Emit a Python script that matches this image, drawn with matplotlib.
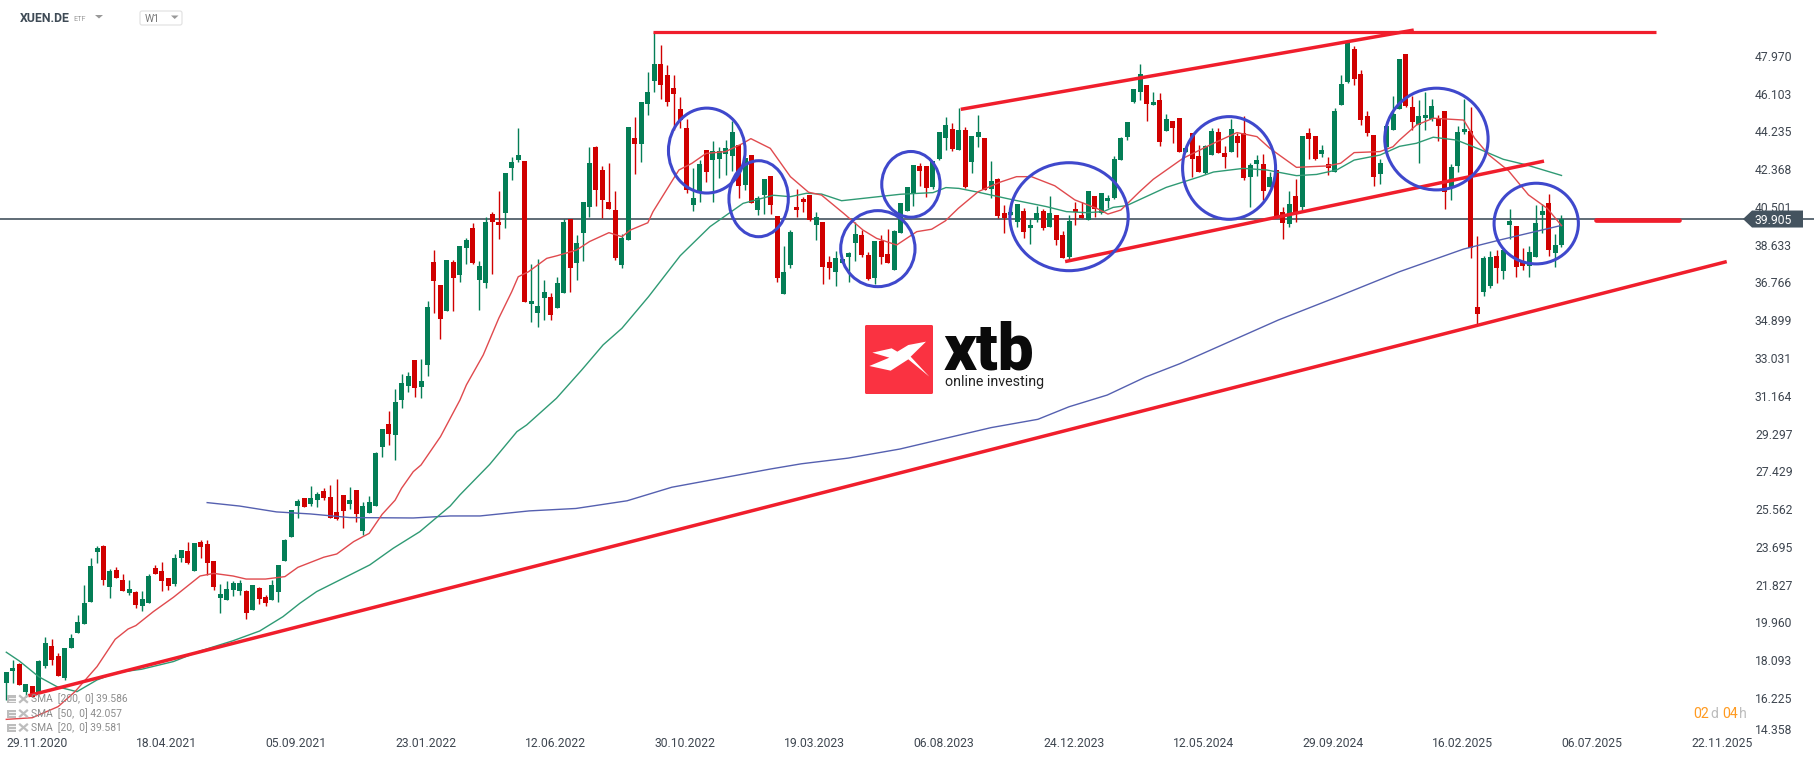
import matplotlib
matplotlib.use("Agg")
import matplotlib.pyplot as plt
import numpy as np
from matplotlib.patches import Ellipse, Polygon, Rectangle, FancyBboxPatch
from matplotlib.transforms import Affine2D, ScaledTranslation, blended_transform_factory

plt.rcParams['font.family'] = ['Roboto', 'DejaVu Sans']

W, H = 1815, 759

# ---------- weekly candles (body colour, body top/bottom, wick high/low) ----------
direction = ("GGRGRGGRRG" "GGGGGRGRRG" "RGGRRRGGRG" "RRRGGGGRGR" "RGGGGGRGGR"
             "RRRGRGGGGR" "GGGRGGRRGR" "GGRGGRRGGG" "RGGGRGGRGG" "GRRRRGGRGG"
             "GRRRRRGGRG" "GGGRGRGGRR" "GGRRRGRRGG" "GGRRGRRGGG" "GRRGGGRGRG"
             "GRGRRGGRGG" "RGRRGRRGRG" "GGGGGGRGRG" "RRGRRGGRRG" "RRGGRGRRGR"
             "GRRGRGGGRR" "RRGGGGRRGG" "GRRGGGRRGG" "RGGRRGGGRGG")

body_top = [
    17.49,17.69,17.90,16.91,16.81,18.05,18.92,18.79,18.30,18.67,
    19.17,19.96,20.90,22.75,23.65,23.74,22.52,22.55,22.05,21.61,
    21.46,21.11,22.25,22.65,22.50,22.15,23.14,23.54,23.49,23.88,
    23.92,23.83,22.99,21.36,21.61,21.91,21.91,21.51,21.79,21.66,
    21.21,21.81,22.80,24.03,25.52,25.96,26.11,26.11,26.31,26.45,
    26.16,25.42,26.26,26.01,26.50,25.71,25.91,28.34,29.52,29.77,
    30.85,31.80,32.14,32.93,31.89,35.55,37.78,36.64,37.88,37.78,
    38.57,38.87,39.46,37.58,39.76,40.15,39.76,42.18,42.73,43.07,
    42.78,35.85,35.61,36.30,36.05,36.74,39.76,39.91,38.72,40.75,
    42.68,43.47,42.33,40.75,40.35,38.97,44.46,43.91,45.69,46.19,
    47.57,47.57,47.03,46.39,45.35,44.41,40.95,42.63,43.32,43.27,
    43.27,43.42,44.21,43.57,42.93,43.07,40.95,41.89,42.04,40.06,
    37.29,39.27,40.50,40.90,41.10,40.01,39.76,37.78,37.98,37.93,
    38.23,39.17,39.12,38.13,38.82,38.82,38.18,39.31,40.71,41.49,
    42.58,42.53,42.53,42.78,44.21,44.56,44.36,44.31,44.31,44.01,
    44.21,43.91,41.79,41.89,40.21,40.27,40.65,40.30,39.61,40.21,
    40.30,40.21,40.11,39.12,39.81,40.40,40.11,41.29,41.05,41.19,
    40.95,42.88,43.91,44.70,46.34,47.08,46.54,45.69,45.79,44.85,
    44.75,44.90,43.42,44.16,43.02,43.52,44.26,44.21,43.17,44.36,
    44.01,44.16,42.58,42.83,42.63,41.98,42.33,40.25,40.65,41.05,
    44.01,44.16,44.01,43.32,42.63,45.25,46.58,48.66,48.31,47.08,
    45.00,44.06,42.68,44.51,45.10,47.82,48.07,45.44,45.00,45.05,
    45.50,44.85,45.25,42.48,44.21,44.36,44.26,35.55,37.98,38.03,
    38.08,38.37,39.81,39.56,37.78,38.27,39.71,40.30,40.70,38.62,39.905]

body_bottom = [
    16.98,17.57,16.86,16.53,16.28,16.45,17.80,18.10,17.31,17.19,
    18.69,19.43,19.88,20.97,23.44,22.05,21.72,22.17,21.51,21.41,
    20.82,20.77,20.93,22.35,22.00,21.76,21.86,23.14,22.89,22.52,
    23.70,22.89,21.72,21.18,21.07,21.55,21.51,20.42,20.57,21.13,
    20.92,21.07,21.46,23.00,24.18,25.71,25.66,25.81,26.01,26.11,
    25.12,25.07,25.47,25.81,25.32,24.47,25.37,25.71,28.63,29.27,
    29.22,30.95,31.65,31.55,31.60,32.69,36.84,34.96,35.36,36.99,
    37.14,38.47,37.73,36.89,36.74,39.76,39.61,40.21,42.43,42.83,
    35.80,35.70,35.26,36.00,35.16,35.51,36.25,37.48,37.73,39.22,
    40.50,41.34,40.85,40.40,37.98,37.63,38.87,43.62,43.62,45.60,
    46.73,46.54,45.69,46.09,44.80,41.34,40.60,41.24,42.23,42.83,
    42.88,43.12,43.02,41.54,41.59,40.70,40.35,41.10,40.60,36.99,
    36.20,37.63,40.35,40.75,39.86,39.61,37.53,37.48,37.29,37.73,
    38.03,38.72,38.13,36.94,36.99,38.03,37.73,37.39,39.20,40.30,
    41.14,42.28,41.44,41.49,42.88,43.91,43.37,43.32,41.49,42.73,
    43.96,41.34,41.39,40.06,39.96,40.11,39.76,39.27,39.46,39.86,
    39.46,39.51,38.87,37.98,38.03,40.25,39.96,39.86,40.40,40.21,
    40.80,40.95,42.83,43.96,45.69,46.19,45.60,45.54,43.71,44.26,
    44.41,43.22,43.22,42.88,42.23,42.18,43.07,43.17,42.97,43.22,
    43.66,41.94,41.98,42.63,41.29,41.49,40.06,39.71,39.66,40.21,
    40.50,43.86,42.88,43.12,42.43,42.23,45.54,46.68,46.83,44.80,
    44.16,41.98,42.13,43.48,44.31,45.33,45.50,44.70,44.55,44.90,
    44.85,44.51,41.24,41.49,42.53,44.21,38.45,35.21,36.30,36.59,
    37.48,37.33,39.61,37.53,37.58,37.58,38.03,40.10,38.37,38.22,38.62]

wick_high = [
    17.49,18.10,17.97,16.91,16.81,18.10,19.22,19.15,18.43,18.67,
    19.37,20.32,21.81,23.13,23.75,23.79,22.58,22.68,22.35,22.05,
    21.51,21.51,22.33,22.80,22.94,22.15,23.34,23.54,23.93,23.88,
    24.03,24.03,22.99,21.86,22.00,22.00,22.05,21.56,21.79,21.69,
    21.31,22.05,22.80,24.08,25.52,26.06,26.11,26.70,26.41,26.60,
    26.75,27.05,26.26,26.65,26.50,25.91,26.21,28.38,29.52,30.41,
    31.50,32.24,32.34,32.93,32.98,35.85,38.37,36.64,37.88,37.88,
    38.57,38.97,39.71,37.83,40.00,40.25,41.29,42.18,42.97,44.41,
    42.78,37.68,37.93,36.89,36.23,37.04,39.91,39.91,39.12,40.75,
    43.47,43.52,42.53,42.68,41.29,39.17,44.46,44.95,45.69,47.18,
    49.16,48.51,47.52,47.03,45.94,44.85,42.43,42.83,43.32,43.77,
    43.47,43.82,44.75,43.57,42.93,43.07,41.05,41.89,42.04,40.06,
    38.57,39.36,41.39,41.00,41.10,40.25,39.76,38.08,38.33,37.93,
    38.27,39.76,39.36,38.28,38.82,39.12,39.41,39.36,40.71,41.49,
    42.58,42.66,42.53,42.78,44.21,44.95,44.66,45.40,44.46,44.01,
    45.05,43.91,42.78,41.94,40.60,40.65,40.65,40.45,39.91,40.55,
    40.40,41.05,40.11,39.31,40.11,40.75,40.75,41.29,41.05,41.19,
    41.10,43.02,43.96,44.70,46.34,47.57,46.54,46.19,46.14,45.10,
    44.75,44.90,43.42,44.16,43.57,43.57,44.41,44.41,43.52,44.85,
    44.14,45.00,42.68,43.07,43.12,42.23,42.33,40.50,41.29,41.89,
    44.01,44.41,44.01,43.57,42.97,45.40,47.03,48.76,48.46,47.27,
    45.25,44.06,42.88,44.51,45.99,47.82,48.07,45.99,45.79,46.19,
    45.84,45.05,45.25,42.63,44.51,45.84,45.44,39.07,38.08,38.32,
    38.37,38.37,40.40,39.56,38.47,38.57,40.60,40.65,41.14,39.16,40.10]

wick_low = [
    16.12,16.94,16.86,16.28,16.28,16.45,17.72,17.85,17.31,17.11,
    18.69,19.43,19.88,20.97,22.88,21.81,21.18,22.17,21.51,21.31,
    20.69,20.54,20.93,22.35,21.51,21.56,21.76,22.96,22.85,22.52,
    23.14,22.30,21.56,20.44,21.07,21.26,21.31,20.13,20.57,20.87,
    20.77,21.07,20.97,23.00,24.18,25.12,25.66,25.71,25.66,26.01,
    25.12,25.02,24.62,25.56,24.92,24.28,25.37,25.71,28.14,28.73,
    27.99,30.56,31.35,31.10,31.05,32.14,35.26,33.97,35.36,35.36,
    36.79,37.68,37.68,35.41,36.50,37.19,38.92,39.46,41.84,42.73,
    35.80,34.83,34.58,34.91,34.91,35.51,36.25,36.30,36.89,37.83,
    40.01,40.55,39.96,40.40,37.88,37.48,38.87,42.13,42.73,45.05,
    46.19,45.84,45.50,44.31,44.41,41.19,40.30,40.75,41.74,40.75,
    41.94,42.08,42.28,40.95,41.34,40.70,40.11,40.16,40.16,36.79,
    36.20,37.48,40.01,40.25,39.81,38.87,36.69,36.94,36.59,37.73,
    36.79,37.83,38.03,36.89,36.69,37.68,37.73,37.39,39.20,40.30,
    40.55,41.54,41.00,41.39,42.83,43.32,43.27,43.32,41.44,42.18,
    43.47,41.34,40.95,39.96,39.22,40.11,39.51,38.97,38.67,39.76,
    39.36,39.51,38.62,37.98,37.88,39.61,39.96,39.86,40.01,40.16,
    40.45,40.90,42.83,43.81,45.64,45.79,44.75,45.54,43.52,44.26,
    43.66,43.22,43.22,41.98,42.23,42.13,43.07,43.17,42.43,43.22,
    42.97,41.84,40.50,42.03,40.85,41.49,40.06,38.92,39.51,39.76,
    40.35,42.88,42.83,42.97,42.08,42.23,45.54,46.63,46.53,44.56,
    44.01,41.54,41.64,43.48,44.31,45.33,45.44,44.31,42.68,44.31,
    44.75,43.76,40.40,40.85,42.23,44.11,37.98,34.71,36.10,36.49,
    36.74,36.94,38.92,37.04,37.38,37.04,38.03,39.21,38.08,37.53,38.52]

# ---------- moving averages read at bar positions ----------
sma20_bar = [0,4,8,10.6,14,16.8,18.8,20,22.7,25.8,29.9,32,35,37,40,43,45,49,51,53.6,56,58,60,61,62.8,64,67,70,71,
             73.6,76,78,79,80.6,83.4,85,88,90,93,95,96.3,99,99.8,103,103.8,105.8,108,111,113.7,114.9,117.9,121,
             123.8,125.8,129.2,132.2,134.3,137.4,140.5,142.8,144.9,146.9,150,153.3,155.9,158.2,161.8,164.9,168.3,
             170,172,174.9,177,181.6,186.3,189.9,193,195,199.1,203.8,205.9,208,212,214,215,217.6,220.2,224.9,226.6,
             228.8,231.8,234.9,237.8,240]
sma20_val = [15.16,15.24,15.79,16.53,17.77,19.12,19.63,19.80,20.49,21.20,22.25,22.38,22.25,22.10,22.10,22.22,22.68,
             23.18,23.34,23.95,24.36,25.30,26.00,26.59,27.41,27.74,29.14,30.95,31.70,33.18,35.00,36.31,37.05,37.30,
             37.96,38.09,38.37,38.79,39.23,39.03,39.36,39.72,40.27,41.92,42.33,42.66,43.15,43.24,43.65,43.88,43.40,
             42.00,41.23,41.09,40.19,39.36,38.95,38.62,39.28,39.40,39.81,40.43,41.26,41.72,42.00,42.00,41.55,40.85,
             40.43,40.15,40.35,41.26,41.87,42.91,43.65,44.18,43.98,43.40,42.46,42.53,42.66,43.19,43.24,43.48,43.81,
             44.55,44.89,44.80,43.90,43.07,42.30,41.10,40.43,39.58]

sma50_bar = [0,2,5,7.8,10.9,14,17,20.9,25.8,29.9,35,39.1,42.7,45.3,47.9,53,56.1,59.7,63.8,68.5,70,74.6,78.8,80.3,84.9,
             88.8,92.1,95,99.1,104,108.6,113.7,118.4,121,123.5,125.8,128.9,138,141,143,145,147,150,155.4,160.5,163.6,
             166.7,169.3,170.8,172.9,179,184.2,186.3,190.9,194.5,199.1,202.2,205.3,208,212,215,217.6,220.2,223.8,
             227.4,231,234.6,240]
sma50_val = [18.48,18.05,17.27,16.78,16.53,17.11,17.47,17.64,18.02,18.54,19.05,19.53,20.24,20.90,21.48,22.30,22.80,
             23.62,24.44,25.71,26.26,27.77,29.39,29.72,31.04,32.44,33.68,34.50,36.06,38.09,39.53,40.68,41.08,41.01,
             41.18,41.14,40.81,41.13,41.18,41.21,41.46,41.42,41.23,40.85,40.52,40.27,40.22,40.27,40.48,40.57,41.47,
             42.00,42.23,42.41,42.33,42.05,42.11,42.33,42.82,43.07,43.50,43.65,43.95,43.81,43.35,42.86,42.58,42.06]

sma200_bar = [31,36,41.7,46.9,53,62.8,68.5,73.1,80.7,87.9,95.8,102.7,110.3,117.9,122.7,129.9,137.9,144.8,152,159.2,164,
              169.9,175.8,181.1,196.3,204.8,215,224.9,230.5,240]
sma200_val = [25.88,25.71,25.42,25.32,25.14,25.12,25.22,25.22,25.47,25.59,25.97,26.64,27.09,27.54,27.80,28.08,28.53,
              29.05,29.59,30.00,30.62,31.20,32.09,32.75,34.91,35.98,37.30,38.42,38.87,39.59]

# ---------- drawn trend lines: (bar, price) end points ----------
long_trend_bar, long_trend_val = [3.4, 265.5], [16.33, 37.80]
top_level_bar, top_level_val = [99.8, 254.6], [49.14, 49.14]
chan_top_bar, chan_top_val = [147.3, 217.2], [45.33, 49.25]
chan_bot_bar, chan_bot_val = [163.4, 237.3], [37.80, 42.77]
short_level_bar, short_level_val = [245.3, 258.1], [39.84, 39.84]

# ---------- drawn circles ----------
circle_bar = [108.1, 116.1, 134.5, 139.6, 164.0, 188.7, 220.7, 236.1]
circle_price = [43.29, 40.91, 38.44, 41.62, 40.02, 42.43, 43.86, 39.68]
circle_w = [11.83, 9.16, 11.47, 9.00, 18.26, 14.35, 15.95, 13.01]
circle_h = [4.20, 3.76, 3.76, 3.25, 5.34, 5.08, 5.03, 3.99]

# ---------- axis ----------
last_price = 39.905
price_ticks = [47.970,46.103,44.235,42.368,40.501,38.633,36.766,34.899,33.031,31.164,
               29.297,27.429,25.562,23.695,21.827,19.960,18.093,16.225,14.358]
date_tick_bars = [0,20,40,60,80,100,120,140,160,180,200,220,240,260]
date_labels = ["29.11.2020","18.04.2021","05.09.2021","23.01.2022","12.06.2022","30.10.2022","19.03.2023",
               "06.08.2023","24.12.2023","12.05.2024","29.09.2024","16.02.2025","06.07.2025","22.11.2025"]
sma_legend = ["SMA  [200,  0] 39.586", "SMA  [50,  0] 42.057", "SMA  [20,  0] 39.581"]

GREEN, RED = '#047E56', '#D00000'
TXT = '#3E4650'

fig = plt.figure(figsize=(W/100, H/100), dpi=100, facecolor='white')
ax = fig.add_axes([0, 0, 1, 1])
ax.set_xlim(-6.3/6.48, (W-6.3)/6.48)
ax.set_ylim(50.737-H/20.22, 50.737)
for s in ax.spines.values():
    s.set_visible(False)

bars = np.arange(len(body_top))
top = np.array(body_top); bottom = np.array(body_bottom)
colors = [GREEN if d == 'G' else RED for d in direction]

ax.axhline(last_price, color='#44535F', lw=1.2, zorder=1)
ax.vlines(bars, wick_low, wick_high, colors=colors, lw=1.0, zorder=2)
ax.bar(bars, top-bottom, bottom=bottom, width=0.77, color=colors, lw=0, zorder=2.1)

ax.plot(sma200_bar, sma200_val, color='#5560B0', lw=1.0, zorder=3)
ax.plot(sma50_bar, sma50_val, color='#2F9A74', lw=1.0, zorder=3)
ax.plot(sma20_bar, sma20_val, color='#E04A4E', lw=1.0, zorder=3)

TREND = '#F01E2C'
ax.plot(long_trend_bar, long_trend_val, color=TREND, lw=2.5, zorder=4, solid_capstyle='butt')
ax.plot(top_level_bar, top_level_val, color=TREND, lw=2.3, zorder=4, solid_capstyle='butt')
ax.plot(chan_top_bar, chan_top_val, color=TREND, lw=2.5, zorder=4, solid_capstyle='butt')
ax.plot(chan_bot_bar, chan_bot_val, color=TREND, lw=2.5, zorder=4, solid_capstyle='butt')
ax.plot(short_level_bar, short_level_val, color=TREND, lw=3.4, zorder=4, solid_capstyle='round')

for cx, cy, w, h in zip(circle_bar, circle_price, circle_w, circle_h):
    ax.add_patch(Ellipse((cx, cy), w, h, fc='none', ec='#3F48CC', lw=2.2, zorder=4.5))

# ticks as real axis ticks, drawn inside the plot area
ax.yaxis.tick_right()
ax.set_yticks(price_ticks, [f"{v:.3f}" for v in price_ticks])
ax.set_xticks(date_tick_bars, date_labels)
ax.tick_params(axis='y', length=0, pad=-43.2, labelsize=8.7, labelcolor=TXT)
ax.tick_params(axis='x', length=0, pad=-15.5, labelsize=8.7, labelcolor=TXT)
for lab in ax.get_xticklabels():
    lab.set_ha('left')
low_label = ax.yaxis.get_major_ticks()[-1].label2
low_label.set_transform(low_label.get_transform() + ScaledTranslation(0, 6.5/72*0.72, fig.dpi_scale_trans))

# pixel-space helper for the screen furniture (origin top-left)
px = Affine2D().scale(1, -1).translate(0, H)

def axfrac(xp):
    return xp / W

# last price tag
tag_tr = blended_transform_factory(ax.transAxes, ax.transData)
d = 8.5/20.22
ax.add_patch(Polygon([(axfrac(1743), last_price), (axfrac(1752), last_price+d), (axfrac(1803), last_price+d),
                      (axfrac(1803), last_price-d), (axfrac(1752), last_price-d)],
                     closed=True, transform=tag_tr, fc='#44535F', ec='none', zorder=6))
ax.text(axfrac(1755), last_price, f"{last_price:.3f}", transform=tag_tr, color='white', fontsize=8.7,
        va='center_baseline', ha='left', zorder=7)

# header
fig.text(20, 19, "XUEN.DE", transform=px, fontsize=8.8, fontweight='bold', color='#3E4A55', va='center', ha='left')
fig.text(73, 19.5, "ETF", transform=px, fontsize=5.2, color='#9A9A9A', va='center', ha='left')
fig.add_artist(Polygon([(95, 15), (103, 15), (99, 18.5)], closed=True, transform=px, fc='#999999', ec='none'))
fig.add_artist(FancyBboxPatch((140, 11), 42, 14, boxstyle='round,pad=0,rounding_size=2', transform=px,
                              fc='white', ec='#E0E0E0', lw=0.8))
fig.text(145, 19, "W1", transform=px, fontsize=7.5, color='#777777', va='center', ha='left')
fig.add_artist(Polygon([(171, 15.5), (178.5, 15.5), (174.7, 19)], closed=True, transform=px, fc='#999999', ec='none'))

# xtb logo
fig.add_artist(FancyBboxPatch((865, 325), 68, 69, boxstyle='round,pad=0,rounding_size=1.5', transform=px,
                              fc='#FA3241', ec='none', zorder=5))
logo_x = [258,205,172,155,97,148,88,152,205,268,212,258]
logo_y = [95,105,125,115,128,143,168,182,148,200,140,95]
fig.add_artist(Polygon([(840+a/3, 310+b/3) for a, b in zip(logo_x, logo_y)], closed=True, transform=px,
                       fc='white', ec='none', zorder=6))
fig.text(944, 370, "xtb", transform=px, fontsize=46, fontweight='black', color='#0A0A0A', va='baseline', ha='left',
         zorder=6)
fig.text(945, 382, "online investing", transform=px, fontsize=10.3, color='#222222', va='center', ha='left', zorder=6)

# indicator legend
for k, (txt, yp) in enumerate(zip(sma_legend, [699, 713.5, 727.5])):
    fig.text(31, yp, txt, transform=px, fontsize=7.4, color='#8C8C8C', va='center', ha='left', zorder=6)
    fig.add_artist(Rectangle((7, yp-4), 9, 8, transform=px, fc='#BDBDBD', ec='none', zorder=6))
    for dy in (-1.5, 1.5):
        fig.add_artist(plt.Line2D([8.5, 16], [yp+dy, yp+dy], transform=px, color='white', lw=0.6, zorder=6))
    for sgn in (-1, 1):
        fig.add_artist(plt.Line2D([20, 27], [yp-3*sgn, yp+3*sgn], transform=px, color='#BDBDBD', lw=1.6, zorder=6))

# countdown
for t, xp, col in (("02", 1693, '#FF9A1F'), ("d", 1710, '#BDBDBD'), ("04", 1722, '#FF9A1F'), ("h", 1739, '#BDBDBD')):
    fig.text(xp, 714, t, transform=px, fontsize=10.2, color=col, va='center', ha='left')

fig.savefig("out.png", dpi=100, facecolor='white')
